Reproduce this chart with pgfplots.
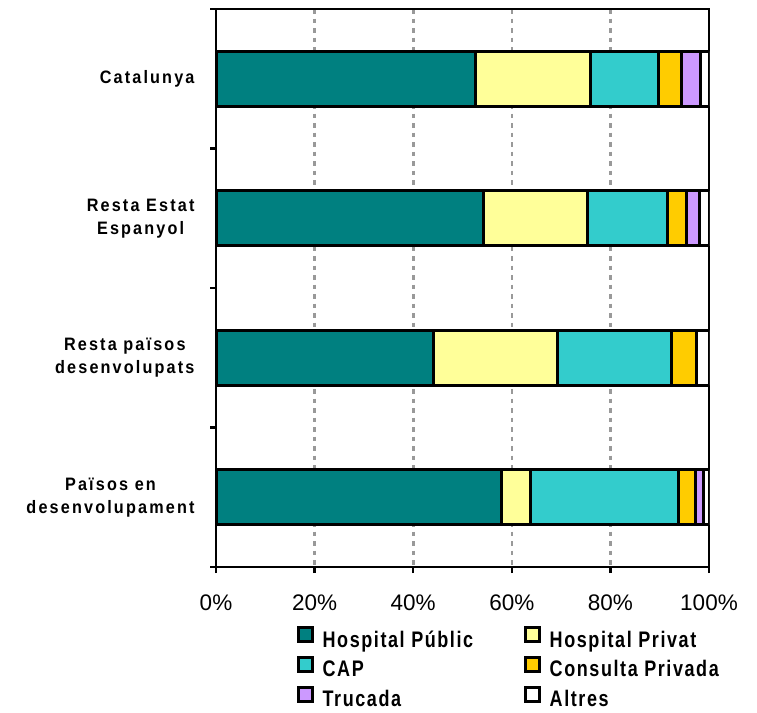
\documentclass[border=0pt]{standalone}
\usepackage{fontspec}
\setmainfont{Liberation Sans}
\newfontfamily\catfont[FakeStretch=0.9,LetterSpace=12]{Liberation Sans}
\newfontfamily\legfont[FakeStretch=0.8,LetterSpace=7]{Liberation Sans}
\usepackage{pgfplots}
\pgfplotsset{compat=1.18}
\definecolor{cHP}{HTML}{008080}
\definecolor{cHPr}{HTML}{FFFF99}
\definecolor{cCAP}{HTML}{33CCCC}
\definecolor{cCP}{HTML}{FFCC00}
\definecolor{cTr}{HTML}{CC99FF}
\definecolor{cAl}{HTML}{FFFFFF}
\pgfplotsset{bb/.style={draw=black, line width=3pt, fill=#1}}
\begin{document}
\begin{tikzpicture}
\useasboundingbox (0,0) rectangle (757pt,712pt);
\begin{axis}[
  at={(216pt,145pt)}, anchor=south west,
  scale only axis, width=493pt, height=558pt,
  xbar stacked, bar width=55pt,
  xmin=0, xmax=100, ymin=-0.5, ymax=3.5, y dir=reverse,
  axis line style={black, line width=2.8pt},
  xtick={0,20,40,60,80,100},
  xticklabels={0\%,20\%,40\%,60\%,80\%,100\%},
  xtick pos=bottom, ytick pos=left,
  tick align=outside,
  xtick style={black, line width=2.4pt},
  major tick length=6pt,
  xticklabel style={font=\fontsize{22.5}{27}\selectfont, yshift=-18pt},
  ytick={0,1,2,3},
  yticklabels={Catalunya,{Resta Estat\\Espanyol},{Resta països\\desenvolupats},{Països en\\desenvolupament}},
  yticklabel style={font=\catfont\bfseries\fontsize{18}{23}\selectfont, align=center, xshift=-12pt},
  ytick style={draw=none},
  extra y ticks={-0.5,0.5,1.5,2.5,3.5},
  extra y tick labels={},
  extra y tick style={ytick style={draw=black, line width=2.4pt}, major tick length=6pt, grid=none},
  xmajorgrids,
  major x grid style={black!40, dash pattern=on 4.5pt off 5pt, line width=2.6pt},
  legend columns=2,
  legend cell align=left,
  legend style={at={(0.164,-0.106)}, anchor=north west, draw=none, inner sep=0pt,
    font=\legfont\bfseries\fontsize{22.5}{26}\selectfont,
    nodes={inner sep=0pt, text height=16pt, text depth=3pt},
    /tikz/every even column/.append style={column sep=51pt},
    /tikz/every odd column/.append style={column sep=9pt},
    row sep=6pt},
  legend image code/.code={\draw[#1, line width=2.6pt] (0pt,-1pt) rectangle (14pt,13pt);},
]
\addplot[bb=cHP] coordinates {(52.6,0) (54.3,1) (44.1,2) (57.9,3)};
\addplot[bb=cHPr] coordinates {(23.3,0) (21.1,1) (25.1,2) (5.9,3)};
\addplot[bb=cCAP] coordinates {(13.8,0) (16.1,1) (23.2,2) (30.1,3)};
\addplot[bb=cCP] coordinates {(4.8,0) (4.0,1) (5.0,2) (3.4,3)};
\addplot[bb=cTr] coordinates {(3.7,0) (2.6,1) (0,2) (1.5,3)};
\addplot[bb=cAl] coordinates {(1.8,0) (1.9,1) (2.6,2) (1.2,3)};
\legend{Hospital Públic, Hospital Privat, CAP, Consulta Privada, Trucada, Altres}
\end{axis}
\end{tikzpicture}
\end{document}
